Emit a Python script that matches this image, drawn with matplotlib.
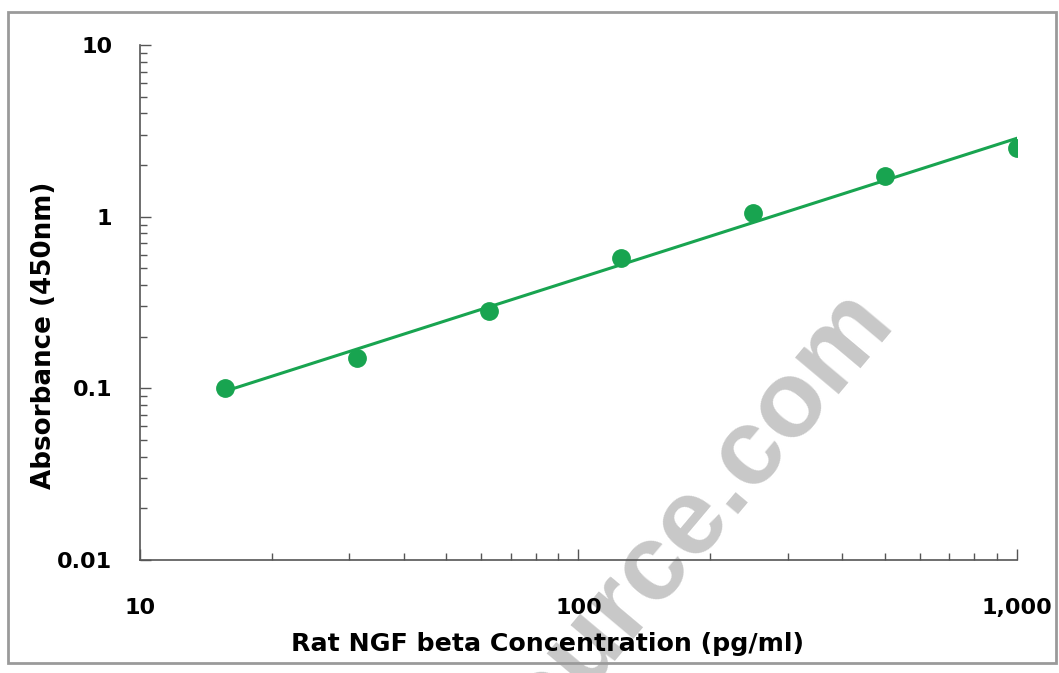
import numpy as np
import matplotlib.pyplot as plt
from matplotlib.patches import Rectangle
from matplotlib.ticker import FixedLocator, NullFormatter, LogLocator

# standard curve values
conc = [15.6, 31.25, 62.5, 125, 250, 500, 1000]
absorb = [0.100, 0.150, 0.284, 0.572, 1.045, 1.72, 2.50]
x_ticks = [10, 100, 1000]
x_tick_labels = ["10", "100", "1,000"]
y_ticks = [0.01, 0.1, 1, 10]
y_tick_labels = ["0.01", "0.1", "1", "10"]

green = "#18A450"
font = "DejaVu Sans"

fig = plt.figure(figsize=(10.59, 6.73), dpi=100)
ax = fig.add_axes([0.1322, 0.1679, 0.8281, 0.7652])
ax.patch.set_visible(False)

# log-log linear fit
p = np.polyfit(np.log10(conc), np.log10(absorb), 1)
xf = np.array([conc[0], conc[-1]])
yf = 10 ** np.polyval(p, np.log10(xf))
ax.plot(xf, yf, color=green, lw=2.2, zorder=2)
ax.plot(conc, absorb, "o", color=green, ms=12.5, zorder=3)

ax.set_xscale("log")
ax.set_yscale("log")
ax.set_xlim(10, 1000)
ax.set_ylim(0.01, 10)

ax.xaxis.set_major_locator(FixedLocator(x_ticks))
ax.set_xticklabels(x_tick_labels)
ax.yaxis.set_major_locator(FixedLocator(y_ticks))
ax.set_yticklabels(y_tick_labels)
ax.xaxis.set_minor_locator(LogLocator(base=10, subs=np.arange(2, 10)))
ax.yaxis.set_minor_locator(LogLocator(base=10, subs=np.arange(2, 10)))
ax.xaxis.set_minor_formatter(NullFormatter())
ax.yaxis.set_minor_formatter(NullFormatter())

for s in ["top", "right"]:
    ax.spines[s].set_visible(False)
for s in ["left", "bottom"]:
    ax.spines[s].set_color("#555555")
    ax.spines[s].set_linewidth(1.2)

ax.tick_params(axis="both", which="major", direction="in", length=8, width=1, color="#555555")
ax.tick_params(axis="both", which="minor", direction="in", length=5, width=1, color="#555555")
ax.tick_params(axis="y", which="major", pad=20)
ax.tick_params(axis="x", which="major", pad=27)
for lab in ax.get_xticklabels() + ax.get_yticklabels():
    lab.set_fontfamily(font)
    lab.set_fontweight("bold")
    lab.set_fontsize(16)

ax.set_xlabel("Rat NGF beta Concentration (pg/ml)", fontfamily=font, fontweight="bold",
              fontsize=18.2)
ax.xaxis.set_label_coords(0.465, -0.14)
ax.set_ylabel("Absorbance (450nm)", fontfamily=font, fontweight="bold", fontsize=18.8)
ax.yaxis.set_label_coords(-0.095, 0.437)

# watermark, behind everything
fig.text(896, 350, "assaysource.com", transform=None, fontfamily="Liberation Sans",
         fontweight="bold", fontsize=78, color="#c8c8c8", rotation=50, ha="right",
         va="baseline", rotation_mode="anchor", zorder=-5)

# outer frame
fig.patches.append(Rectangle((8, 10), 1048, 651, transform=None, fill=False,
                             edgecolor="#9a9a9a", lw=2))

fig.savefig("out.png", dpi=100)
